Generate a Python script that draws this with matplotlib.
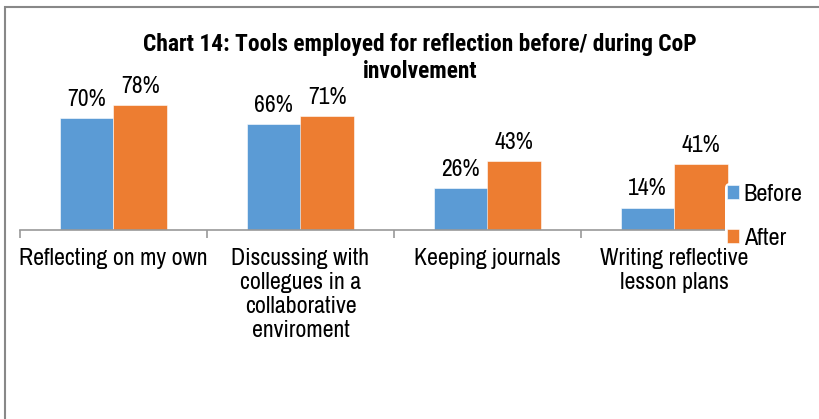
import numpy as np
import matplotlib.pyplot as plt
from matplotlib.patches import Rectangle

# data
categorias = ['Reflecting on my own',
              'Discussing with\ncollegues in a\ncollaborative\nenviroment',
              'Keeping journals',
              'Writing reflective\nlesson plans']
antes = [70, 66, 26, 14]
despues = [78, 71, 43, 41]
series = ['Before', 'After']
titulo = ['Chart 14: Tools employed for reflection before/ during CoP',
          'involvement']

AZUL = '#5B9BD5'
NARANJA = '#ED7D31'
FUENTE = ['Archivo Narrow', 'Liberation Sans', 'DejaVu Sans']
FUENTE_TITULO = ['Roboto Condensed', 'Archivo Narrow', 'DejaVu Sans']

plt.rcParams['font.family'] = FUENTE

fig = plt.figure(figsize=(8.2, 4.19), dpi=100)
# marco gris del grafico
fig.patches.append(Rectangle((5.5 / 820, -0.05), 1.2, (419 - 7.5) / 419 + 0.05,
                             transform=fig.transFigure, fill=False,
                             edgecolor='#888888', linewidth=1.5))

ax = fig.add_axes([20 / 820, 189 / 419, 748 / 820, 160 / 419])

x = np.arange(len(categorias))
ancho = 0.286
b1 = ax.bar(x - ancho / 2, antes, ancho, color=AZUL, label=series[0],
            edgecolor='white', linewidth=0.4)
b2 = ax.bar(x + ancho / 2, despues, ancho, color=NARANJA, label=series[1],
            edgecolor='white', linewidth=0.4)

for barras in (b1, b2):
    for b in barras:
        ax.annotate(f'{int(b.get_height())}%',
                    (b.get_x() + b.get_width() / 2, b.get_height()),
                    xytext=(0, 6), textcoords='offset points',
                    ha='center', va='bottom', fontsize=17)

ax.set_xlim(-0.5, len(categorias) - 0.5)
ax.set_ylim(0, 100)
ax.set_yticks([])
for s in ['top', 'right', 'left']:
    ax.spines[s].set_visible(False)
ax.spines['bottom'].set_color('#999999')
ax.spines['bottom'].set_linewidth(1.2)

ax.set_xticks(np.arange(-0.5, len(categorias) + 0.5, 1))
ax.set_xticklabels([])
ax.tick_params(axis='x', length=6, color='#999999', width=1.2)
for i, cat in enumerate(categorias):
    ax.text(i, -11.5, cat, ha='center', va='top', fontsize=17.2,
            linespacing=1.17, transform=ax.transData)

# titulo en dos lineas separadas
for linea, y in zip(titulo, [45, 72]):
    fig.text(420 / 820, 1 - y / 419, linea, ha='center', va='center',
             fontsize=16.9, fontweight='bold', family=FUENTE_TITULO)

leg = ax.legend(loc='center left', bbox_to_anchor=(0.943, 0.085), frameon=True,
                fontsize=17.5, handlelength=0.5, handleheight=0.5,
                handletextpad=0.2, labelspacing=0.95, borderpad=0.05,
                borderaxespad=0)
leg.get_frame().set_facecolor('white')
leg.get_frame().set_edgecolor('none')
leg.get_frame().set_alpha(1)

plt.savefig('out.png', dpi=100)
